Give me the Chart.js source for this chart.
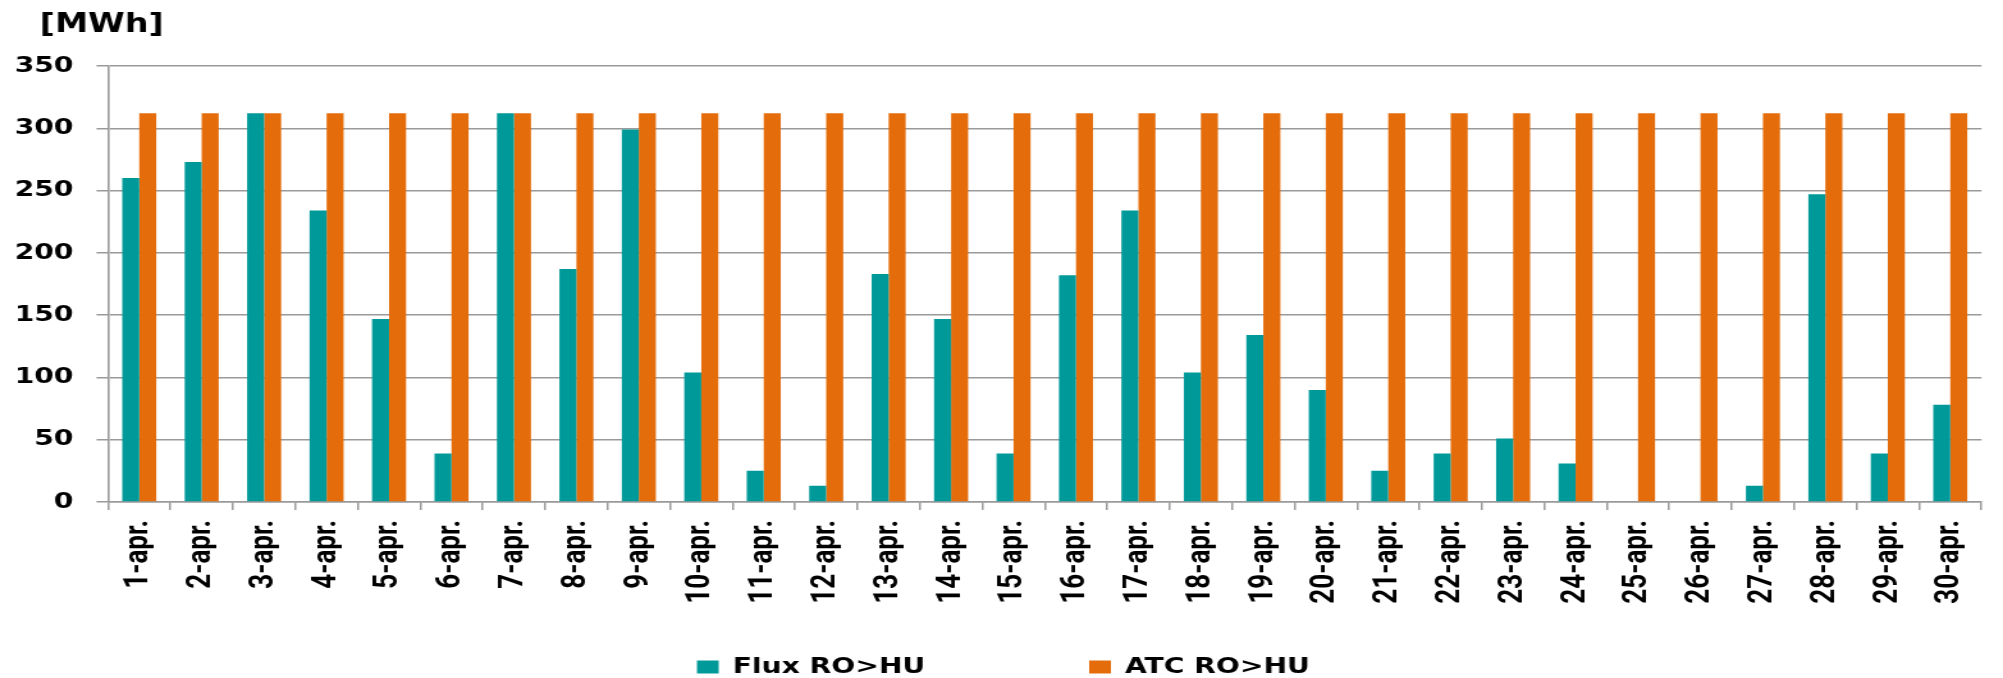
<!DOCTYPE html>
<html>
<head>
<meta charset="utf-8">
<script src="https://cdn.jsdelivr.net/npm/chart.js@4/dist/chart.umd.min.js"></script>
<style>
  html, body { margin: 0; padding: 0; background: #ffffff; overflow: hidden; }
  #c { display: block; width: 2003px; height: 678px; }
</style>
</head>
<body>
<canvas id="c" width="1565" height="678" style="width:2003px;height:678px;"></canvas>
<script>
const categories = ['1-apr.', '2-apr.', '3-apr.', '4-apr.', '5-apr.', '6-apr.', '7-apr.', '8-apr.', '9-apr.', '10-apr.',
  '11-apr.', '12-apr.', '13-apr.', '14-apr.', '15-apr.', '16-apr.', '17-apr.', '18-apr.', '19-apr.', '20-apr.',
  '21-apr.', '22-apr.', '23-apr.', '24-apr.', '25-apr.', '26-apr.', '27-apr.', '28-apr.', '29-apr.', '30-apr.'];
const fluxValues = [260, 273, 312, 234, 147, 39, 312, 187, 299, 104,
  25, 13, 183, 147, 39, 182, 234, 104, 134, 90,
  25, 39, 51, 31, 0, 0, 13, 247, 39, 78];
const atcValues = [312, 312, 312, 312, 312, 312, 312, 312, 312, 312,
  312, 312, 312, 312, 312, 312, 312, 312, 312, 312,
  312, 312, 312, 312, 312, 312, 312, 312, 312, 312];
const seriesNames = ['Flux RO>HU', 'ATC RO>HU'];
const unitLabel = '[MWh]';
const yTicks = [0, 50, 100, 150, 200, 250, 300, 350];

const GRID = '#9a9a9a';

const unitPlugin = {
  id: 'unitLabel',
  afterDraw(chart) {
    const ctx = chart.ctx;
    ctx.save();
    ctx.font = 'bold 26px "DejaVu Sans", Verdana, sans-serif';
    ctx.fillStyle = '#000000';
    ctx.textBaseline = 'middle';
    ctx.textAlign = 'left';
    ctx.fillText(unitLabel, 31, 25);
    ctx.restore();
  }
};

new Chart(document.getElementById('c'), {
  type: 'bar',
  data: {
    labels: categories,
    datasets: [
      { label: seriesNames[0], data: fluxValues, backgroundColor: '#009999', borderWidth: 0 },
      { label: seriesNames[1], data: atcValues, backgroundColor: '#E46C0A', borderWidth: 0 }
    ]
  },
  options: {
    responsive: false,
    animation: false,
    events: [],
    layout: { padding: { top: 66, left: 0, right: -3, bottom: -10 } },
    datasets: { bar: { categoryPercentage: 0.545, barPercentage: 1.0 } },
    scales: {
      x: {
        offset: true,
        afterFit(scale) {
          scale.height = 26;
          scale._computeLabelArea = () => undefined;
        },
        grid: { display: true, drawOnChartArea: false, drawTicks: true, tickLength: 8, color: GRID, lineWidth: 1.5, offset: true },
        border: { display: true, color: GRID, width: 1.5 },
        ticks: {
          autoSkip: false, minRotation: 90, maxRotation: 90, padding: 10,
          color: '#000000',
          font: { family: 'Roboto, "Liberation Sans", Arial, sans-serif', weight: 'bold', size: 26 }
        }
      },
      y: {
        min: 0, max: 350,
        afterFit(scale) { scale.width = 84.4; },
        afterBuildTicks(scale) { scale.ticks = yTicks.map(v => ({ value: v })); },
        grid: { display: true, drawTicks: true, tickLength: 9, color: GRID, lineWidth: 1.5 },
        border: { display: true, color: GRID, width: 1.6 },
        ticks: {
          stepSize: 50, padding: 18, color: '#000000',
          font: { family: '"DejaVu Sans", Verdana, sans-serif', weight: 'bold', size: 22 }
        }
      }
    },
    plugins: {
      title: { display: false },
      tooltip: { enabled: false },
      legend: {
        display: true,
        position: 'bottom',
        align: 'center',
        labels: {
          boxWidth: 17, boxHeight: 13, padding: 128, color: '#000000',
          font: { family: '"DejaVu Sans", Verdana, sans-serif', weight: 'bold', size: 22 }
        }
      }
    }
  },
  plugins: [unitPlugin]
});
</script>
</body>
</html>
